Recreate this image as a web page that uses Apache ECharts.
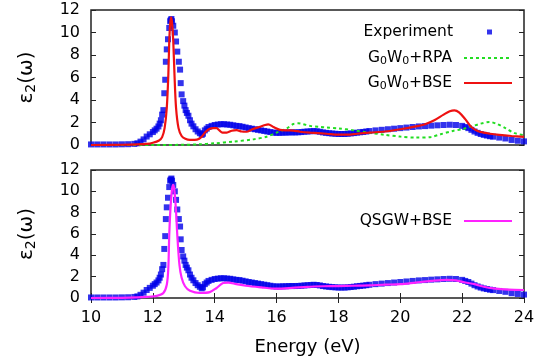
<!DOCTYPE html>
<html>
<head>
<meta charset="utf-8">
<script src="https://cdn.jsdelivr.net/npm/echarts@6/dist/echarts.min.js"></script>
<style>
  html, body { margin: 0; padding: 0; background: #fff; }
  #chart { width: 550px; height: 362px; }
</style>
</head>
<body>
<div id="chart"></div>
<script>
// 实验数据 (experiment)
var expE = [10.0, 10.2, 10.4, 10.6, 10.8, 11.0, 11.2, 11.4, 11.5, 11.6, 11.7, 11.8, 11.9, 12.0,
  12.06, 12.12, 12.18, 12.22, 12.26, 12.30, 12.34, 12.37, 12.40, 12.42, 12.45, 12.49, 12.53, 12.56,
  12.58, 12.60, 12.62, 12.66, 12.71, 12.75, 12.79, 12.84, 12.88, 12.90, 12.93, 12.98, 13.02, 13.06,
  13.10, 13.15, 13.20, 13.25, 13.31, 13.38, 13.45, 13.52, 13.58, 13.62, 13.68, 13.74, 13.80, 13.90,
  14.0, 14.1, 14.2, 14.3, 14.4, 14.5, 14.6, 14.7, 14.8, 14.9, 15.0, 15.1, 15.2, 15.3, 15.4, 15.5,
  15.6, 15.7, 15.8, 15.9, 16.0, 16.1, 16.2, 16.3, 16.4, 16.5, 16.6, 16.7, 16.8, 16.9, 17.0, 17.1,
  17.2, 17.3, 17.4, 17.5, 17.6, 17.7, 17.8, 17.9, 18.0, 18.1, 18.2, 18.3, 18.4, 18.5, 18.6, 18.7,
  18.8, 18.9, 19.0, 19.2, 19.4, 19.6, 19.8, 20.0, 20.2, 20.4, 20.6, 20.8, 21.0, 21.2, 21.4, 21.6,
  21.8, 22.0, 22.1, 22.2, 22.3, 22.4, 22.5, 22.6, 22.7, 22.8, 22.9, 23.0, 23.2, 23.4, 23.6, 23.8, 24.0];
var expV = [0.05, 0.05, 0.05, 0.05, 0.05, 0.06, 0.07, 0.1, 0.15, 0.3, 0.5, 0.75, 0.95, 1.15,
  1.3, 1.45, 1.65, 1.9, 2.2, 2.7, 3.1, 4.6, 5.8, 7.4, 8.5, 9.4, 10.4, 11.0,
  11.1, 11.2, 11.0, 10.6, 10.0, 9.2, 8.3, 7.4, 6.7, 5.5, 4.5, 3.9, 3.5, 3.1,
  2.85, 2.6, 2.2, 1.9, 1.66, 1.4, 1.2, 1.05, 0.9, 1.0, 1.3, 1.45, 1.6, 1.7,
  1.78, 1.82, 1.85, 1.85, 1.82, 1.8, 1.75, 1.7, 1.68, 1.62, 1.56, 1.5, 1.45, 1.4, 1.35, 1.3,
  1.25, 1.2, 1.15, 1.1, 1.08, 1.08, 1.1, 1.1, 1.12, 1.12, 1.12, 1.13, 1.15, 1.18, 1.2, 1.22,
  1.24, 1.22, 1.18, 1.12, 1.08, 1.05, 1.02, 1.0, 0.98, 0.98, 0.98, 1.0, 1.03, 1.06, 1.1, 1.13,
  1.16, 1.2, 1.24, 1.3, 1.35, 1.4, 1.45, 1.5, 1.55, 1.6, 1.65, 1.68, 1.72, 1.75, 1.78, 1.8,
  1.78, 1.7, 1.6, 1.5, 1.35, 1.2, 1.08, 0.98, 0.9, 0.84, 0.78, 0.74, 0.66, 0.58, 0.45, 0.38, 0.32];

// G0W0+RPA
var rpaE = [10.0, 12.0, 13.0, 13.5, 14.0, 14.6, 15.25, 15.68, 16.0, 16.33, 16.54, 16.7, 16.86, 17.08,
  17.4, 17.62, 18.0, 18.5, 19.0, 19.5, 20.0, 20.5, 21.0, 21.3, 21.7, 22.0, 22.3, 22.6, 22.88,
  23.1, 23.4, 23.7, 24.0];
var rpaV = [0.0, 0.0, 0.02, 0.06, 0.15, 0.3, 0.5, 0.74, 1.1, 1.48, 1.87, 1.93, 1.85, 1.7,
  1.6, 1.55, 1.48, 1.3, 1.1, 0.9, 0.75, 0.66, 0.72, 0.95, 1.25, 1.4, 1.65, 1.9, 2.05,
  1.9, 1.5, 1.05, 0.88];

// G0W0+BSE
var bseE = [10.0, 11.0, 11.5, 11.8, 12.0, 12.2, 12.3, 12.38, 12.45, 12.50, 12.53, 12.56, 12.59,
  12.62, 12.66, 12.70, 12.75, 12.83, 12.93, 13.05, 13.2, 13.35, 13.5, 13.6, 13.7, 13.84, 13.96,
  14.06, 14.15, 14.25, 14.39, 14.55, 14.71, 14.87, 15.03, 15.2, 15.41, 15.63, 15.73, 15.9, 16.11,
  16.33, 16.54, 16.76, 17.08, 17.62, 18.0, 18.3, 18.6, 19.0, 19.5, 20.0, 20.5, 20.8, 21.1, 21.4,
  21.6, 21.75, 21.9, 22.1, 22.3, 22.5, 22.7, 22.9, 23.2, 23.6, 24.0];
var bseV = [0.0, 0.02, 0.05, 0.1, 0.2, 0.4, 0.7, 1.5, 3.3, 6.2, 9.2, 10.8, 11.35,
  10.9, 9.2, 6.2, 3.3, 1.5, 0.8, 0.55, 0.45, 0.45, 0.55, 0.8, 1.15, 1.45, 1.5,
  1.5, 1.3, 1.1, 1.1, 1.27, 1.32, 1.2, 1.18, 1.38, 1.57, 1.78, 1.84, 1.6, 1.35,
  1.3, 1.28, 1.18, 1.1, 1.0, 0.92, 0.92, 1.0, 1.1, 1.2, 1.4, 1.65, 1.85, 2.2, 2.7,
  3.0, 3.08, 2.9, 2.3, 1.6, 1.25, 1.1, 1.0, 0.9, 0.8, 0.72];

// QSGW+BSE
var qsE = [10.0, 11.0, 11.5, 11.8, 12.13, 12.34, 12.45, 12.50, 12.53, 12.57, 12.62, 12.66, 12.70,
  12.75, 12.79, 12.86, 12.93, 13.04, 13.2, 13.52, 13.84, 14.06, 14.27, 14.44, 14.7, 15.0, 15.5,
  16.0, 16.5, 17.0, 17.5, 18.0, 18.5, 19.0, 19.5, 20.0, 20.5, 21.0, 21.5, 21.8, 22.1, 22.4, 22.7,
  23.0, 23.5, 24.0];
var qsV = [0.0, 0.02, 0.05, 0.1, 0.2, 0.47, 1.25, 2.8, 5.9, 8.4, 10.2, 10.6, 10.0,
  8.1, 5.9, 3.1, 1.9, 1.1, 0.68, 0.47, 0.55, 0.94, 1.4, 1.45, 1.3, 1.15, 1.0,
  0.88, 0.95, 1.05, 1.1, 1.12, 1.15, 1.18, 1.25, 1.3, 1.45, 1.6, 1.7, 1.65, 1.45, 1.3, 1.05,
  0.9, 0.78, 0.75];

var xTicks = [10, 12, 14, 16, 18, 20, 22, 24];
var yTicks = [0, 2, 4, 6, 8, 10, 12];

function zip(a, b) {
  return a.map(function (v, i) { return [v, b[i]]; });
}

var FONT = 'DejaVu Sans';
var BORDER = '#222';
var sub = { fontSize: 11, fontFamily: FONT, color: '#000', padding: [7, 0, 0, 0] };
var txt = { fontSize: 15.5, fontFamily: FONT, color: '#000' };

function xAx(grid, pos, labels, ticks) {
  return {
    type: 'value', gridIndex: grid, position: pos,
    min: xTicks[0], max: xTicks[xTicks.length - 1], interval: 2,
    axisLine: { show: false },
    axisTick: { show: ticks, inside: true, length: 5, lineStyle: { color: BORDER, width: 1 } },
    axisLabel: { show: labels, fontSize: 16, fontFamily: FONT, color: '#000', margin: 12 },
    splitLine: { show: false }
  };
}
function yAx(grid, pos, labels) {
  var a = {
    type: 'value', gridIndex: grid, position: pos,
    min: yTicks[0], max: yTicks[yTicks.length - 1], interval: 2,
    axisLine: { show: false },
    axisTick: { show: true, inside: true, length: 5, lineStyle: { color: BORDER, width: 1 } },
    axisLabel: { show: labels, fontSize: 16, fontFamily: FONT, color: '#000', margin: 11 },
    splitLine: { show: false }
  };
  if (labels) {
    a.name = '{m|ε}{s|2}{m|(ω)}';
    a.nameLocation = 'middle';
    a.nameRotate = 90;
    a.nameGap = 53;
    a.nameTextStyle = { rich: { m: { fontSize: 20, fontFamily: FONT, color: '#000' }, s: { fontSize: 14, fontFamily: FONT, color: '#000', padding: [9, 0, 0, 0] } } };
  }
  return a;
}

var chart = echarts.init(document.getElementById('chart'), null, { renderer: 'canvas' });

var lineLegend = {
  right: 32, itemWidth: 48, itemHeight: 4, align: 'right', selectedMode: false,
  itemStyle: { opacity: 0 }
};

chart.setOption({
  animation: false,
  backgroundColor: '#fff',
  grid: [
    { left: 91, right: 26, top: 10, height: 135, show: true, borderColor: BORDER, borderWidth: 1.5, backgroundColor: 'transparent' },
    { left: 91, right: 26, top: 170, height: 128, show: true, borderColor: BORDER, borderWidth: 1.5, backgroundColor: 'transparent' }
  ],
  xAxis: [
    xAx(0, 'bottom', false, false),
    (function () {
      var a = xAx(1, 'bottom', true, true);
      a.name = 'Energy (eV)';
      a.nameLocation = 'middle';
      a.nameGap = 40;
      a.nameTextStyle = { fontSize: 18, fontFamily: FONT, color: '#000' };
      return a;
    })(),
    xAx(1, 'top', false, true)
  ],
  yAxis: [
    yAx(0, 'left', true),
    yAx(0, 'right', false),
    yAx(1, 'left', true),
    yAx(1, 'right', false)
  ],
  legend: [
    {
      data: ['Experiment'], right: 53, top: 19, icon: 'rect', itemWidth: 5, itemHeight: 5,
      align: 'right', selectedMode: false,
      formatter: '{t|Experiment}{g|}',
      textStyle: { rich: { t: txt, g: { width: 29 } } }
    },
    Object.assign({}, lineLegend, {
      data: ['G0W0+RPA'], top: 45,
      formatter: '{t|G}{s|0}{t|W}{s|0}{t|+RPA}{g|}',
      textStyle: { rich: { t: txt, s: sub, g: { width: 7 } } }
    }),
    Object.assign({}, lineLegend, {
      data: ['G0W0+BSE'], top: 70,
      formatter: '{t|G}{s|0}{t|W}{s|0}{t|+BSE}{g|}',
      textStyle: { rich: { t: txt, s: sub, g: { width: 7 } } }
    }),
    Object.assign({}, lineLegend, {
      data: ['QSGW+BSE'], top: 208,
      formatter: '{t|QSGW+BSE}{g|}',
      textStyle: { rich: { t: txt, g: { width: 7 } } }
    })
  ],
  series: [
    {
      name: 'Experiment', type: 'scatter', xAxisIndex: 0, yAxisIndex: 0,
      symbol: 'rect', symbolSize: 6, itemStyle: { color: '#0000e8' },
      data: zip(expE, expV)
    },
    {
      name: 'G0W0+RPA', type: 'line', xAxisIndex: 0, yAxisIndex: 0,
      symbol: 'none', smooth: 0.3,
      lineStyle: { color: '#22dd22', width: 2, type: [3, 3] }, itemStyle: { color: '#22dd22' },
      data: zip(rpaE, rpaV)
    },
    {
      name: 'G0W0+BSE', type: 'line', xAxisIndex: 0, yAxisIndex: 0,
      symbol: 'none', smooth: 0.3,
      lineStyle: { color: '#ee1111', width: 2.2 }, itemStyle: { color: '#ee1111' },
      data: zip(bseE, bseV)
    },
    {
      name: 'Experiment', type: 'scatter', xAxisIndex: 1, yAxisIndex: 2,
      symbol: 'rect', symbolSize: 6, itemStyle: { color: '#0000e8' },
      data: zip(expE, expV)
    },
    {
      name: 'QSGW+BSE', type: 'line', xAxisIndex: 1, yAxisIndex: 2,
      symbol: 'none', smooth: 0.3,
      lineStyle: { color: '#ff22ff', width: 2.2 }, itemStyle: { color: '#ff22ff' },
      data: zip(qsE, qsV)
    }
  ]
});
</script>
</body>
</html>
